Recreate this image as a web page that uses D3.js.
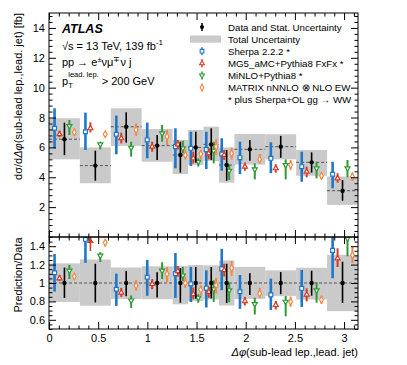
<!DOCTYPE html>
<html lang="en">
<head>
<meta charset="UTF-8">
<title>ATLAS dphi(sub-lead lep., lead. jet)</title>
<style>
  body { margin: 0; background: #fff; }
  text { font-family: "Liberation Sans", Arial, sans-serif; fill: #000; }
</style>
</head>
<body>
<script src="https://d3js.org/d3.v7.min.js"></script>
<script>
// bin edges in rad (0, pi/10, ... with finer bins around pi/2)
const binEdges = [0, 0.314, 0.628, 0.942, 1.257, 1.414, 1.571, 1.728, 1.885, 2.199, 2.513, 2.827, 3.1416];

// data, stat. errors and total uncertainty [fb]
const dataVal = [6.55, 4.78, 7.38, 6.12, 5.49, 6.0, 6.2, 4.82, 5.87, 6.05, 5.0, 3.1];
const dataLo  = [5.48, 3.77, 6.32, 5.16, 4.31, 4.98, 5.16, 3.77, 5.11, 5.31, 4.31, 2.43];
const dataHi  = [7.65, 5.78, 8.35, 6.83, 6.38, 7.05, 7.28, 5.83, 6.5, 6.77, 5.67, 3.82];
const totLo   = [5.2, 3.6, 6.1, 5.04, 4.22, 4.82, 5.09, 3.64, 4.85, 5.2, 4.1, 2.15];
const totHi   = [7.95, 6.0, 8.62, 7.23, 6.5, 7.17, 7.39, 6.0, 6.9, 6.88, 5.83, 4.05];

// predictions
const sherpaVal = [7.28, 7.05, 6.88, 6.5, 6.05, 5.94, 5.85, 5.56, 5.31, 5.27, 4.71, 4.2];
const sherpaLo  = [5.94, 5.83, 5.54, 5.27, 4.6, 4.76, 4.55, 4.44, 4.22, 4.27, 3.7, 3.26];
const sherpaHi  = [8.62, 8.33, 8.13, 7.66, 7.28, 7.05, 7.05, 6.61, 6.38, 6.34, 5.71, 5.04];

const mg5Val = [6.88, 7.28, 6.61, 6.05, 6.2, 5.27, 5.6, 5.49, 4.71, 4.6, 4.37, 3.93];
const mg5Lo  = [6.68, 7.0, 6.27, 5.71, 5.87, 4.93, 5.2, 5.16, 4.44, 4.31, 4.0, 3.64];
const mg5Hi  = [7.12, 7.68, 6.99, 6.38, 6.5, 5.71, 5.94, 5.83, 4.98, 4.87, 4.71, 4.27];

const minloVal = [7.43, 6.2, 5.98, 6.94, 5.94, 5.04, 5.78, 4.44, 4.53, 4.82, 4.6, 4.6];
const minloLo  = [6.83, 5.87, 5.38, 6.38, 5.6, 4.71, 4.93, 3.82, 3.86, 3.86, 3.93, 4.0];
const minloHi  = [7.84, 6.38, 6.38, 7.5, 6.45, 5.27, 6.38, 4.82, 4.93, 5.2, 5.04, 5.16];

const matrixVal = [7.01, 6.88, 7.17, 6.72, 5.49, 5.56, 6.05, 5.6, 5.2, 4.82, 4.09, 4.04];
const matrixLo  = [6.79, 6.68, 6.77, 6.16, 5.2, 5.2, 5.49, 5.2, 4.93, 4.49, 3.86, 3.77];
const matrixHi  = [7.23, 7.05, 7.61, 7.17, 5.87, 5.83, 6.54, 5.98, 5.56, 5.16, 4.31, 4.31];

const xTicks = [0, 0.5, 1, 1.5, 2, 2.5, 3];
const yTicks = [2, 4, 6, 8, 10, 12, 14];
const rTicks = [0.6, 0.8, 1, 1.2, 1.4];

// layout
const W = 407, H = 365;
const pLeft = 49, pRight = 358, pTop = 13, pMid = 237, pBottom = 329;

const svg = d3.select("body").append("svg").attr("width", W).attr("height", H);

const x = d3.scaleLinear().domain([0, Math.PI]).range([pLeft, pRight]);
const y = d3.scaleLinear().domain([0, 15]).range([pMid, pTop]);
const yR = d3.scaleLinear().domain([0.5, 1.5]).range([pBottom, pMid]);

const defs = svg.append("defs");
defs.append("clipPath").attr("id", "cMain").append("rect")
    .attr("x", pLeft).attr("y", pTop).attr("width", pRight - pLeft).attr("height", pMid - pTop);
defs.append("clipPath").attr("id", "cRatio").append("rect")
    .attr("x", pLeft).attr("y", pMid).attr("width", pRight - pLeft).attr("height", pBottom - pMid);

const bins = dataVal.map((d, i) => ({
    lo: binEdges[i], hi: binEdges[i + 1],
    c: (binEdges[i] + binEdges[i + 1]) / 2, w: binEdges[i + 1] - binEdges[i]
}));

const series = [
    { val: sherpaVal, lo: sherpaLo, hi: sherpaHi, color: "#1f77c9", sym: d3.symbolSquare, size: 15, rot: 0, off: -0.32, sw: 2.6 },
    { val: mg5Val, lo: mg5Lo, hi: mg5Hi, color: "#d93a22", sym: d3.symbolTriangle, size: 11, rot: 0, off: -0.16, sw: 2 },
    { val: minloVal, lo: minloLo, hi: minloHi, color: "#2e9a35", sym: d3.symbolTriangle, size: 11, rot: 180, off: 0.16, sw: 2 },
    { val: matrixVal, lo: matrixLo, hi: matrixHi, color: "#f58746", sym: d3.symbolDiamond, size: 13, rot: 0, off: 0.32, sw: 2 }
];

// ---------- main panel ----------
const gM = svg.append("g").attr("clip-path", "url(#cMain)");
gM.selectAll("rect.tot").data(bins).enter().append("rect")
    .attr("x", d => x(d.lo)).attr("width", d => x(d.hi) - x(d.lo))
    .attr("y", (d, i) => y(totHi[i])).attr("height", (d, i) => y(totLo[i]) - y(totHi[i]))
    .attr("fill", "#cacaca");
gM.selectAll("line.dash").data(bins).enter().append("line")
    .attr("x1", d => x(d.lo)).attr("x2", d => x(d.hi))
    .attr("y1", (d, i) => y(dataVal[i])).attr("y2", (d, i) => y(dataVal[i]))
    .attr("stroke", "#555").attr("stroke-width", 1).attr("stroke-dasharray", "3,2");

function drawSeries(g, s, ys, norm) {
    bins.forEach((b, i) => {
        const px = x(b.c + s.off * b.w);
        const n = norm ? dataVal[i] : 1;
        g.append("line").attr("x1", px).attr("x2", px)
            .attr("y1", ys(s.lo[i] / n)).attr("y2", ys(s.hi[i] / n))
            .attr("stroke", s.color).attr("stroke-width", s.sw);
        const v = s.val[i] / n;
        if (norm && v > ys.domain()[1]) {
            // off-scale: arrow up
            const y0 = ys(ys.domain()[1]);
            g.append("line").attr("x1", px).attr("x2", px).attr("y1", y0 + 14).attr("y2", y0 + 3)
                .attr("stroke", s.color).attr("stroke-width", 1.5);
            g.append("path").attr("d", `M${px - 3.5},${y0 + 6}L${px},${y0 + 1}L${px + 3.5},${y0 + 6}Z`)
                .attr("fill", s.color);
            return;
        }
        g.append("path").attr("d", d3.symbol().type(s.sym).size(s.size)())
            .attr("transform", `translate(${px},${ys(v)}) rotate(${s.rot})`)
            .attr("fill", "#fff").attr("stroke", s.color).attr("stroke-width", 1.2);
    });
}
function drawData(g, ys, norm) {
    bins.forEach((b, i) => {
        const px = x(b.c), n = norm ? dataVal[i] : 1;
        g.append("line").attr("x1", px).attr("x2", px)
            .attr("y1", ys(dataLo[i] / n)).attr("y2", ys(dataHi[i] / n))
            .attr("stroke", "#000").attr("stroke-width", 1.6);
        g.append("circle").attr("cx", px).attr("cy", ys(dataVal[i] / n)).attr("r", 2.2).attr("fill", "#000");
    });
}
series.forEach(s => drawSeries(gM, s, y, false));
drawData(gM, y, false);

// ---------- ratio panel ----------
const gR = svg.append("g").attr("clip-path", "url(#cRatio)");
gR.selectAll("rect.tot").data(bins).enter().append("rect")
    .attr("x", d => x(d.lo)).attr("width", d => x(d.hi) - x(d.lo))
    .attr("y", (d, i) => yR(totHi[i] / dataVal[i]))
    .attr("height", (d, i) => yR(totLo[i] / dataVal[i]) - yR(totHi[i] / dataVal[i]))
    .attr("fill", "#cacaca");
gR.append("line").attr("x1", pLeft).attr("x2", pRight).attr("y1", yR(1)).attr("y2", yR(1))
    .attr("stroke", "#555").attr("stroke-width", 1).attr("stroke-dasharray", "3,2");
series.forEach(s => drawSeries(gR, s, yR, true));
drawData(gR, yR, true);

// ---------- axes ----------
function ticks(g, axis, vals, len, fmt) {
    g.call(axis.tickValues(vals).tickSizeInner(-len).tickSizeOuter(0).tickFormat(fmt || ""))
        .call(a => a.select(".domain").remove())
        .call(a => a.selectAll("line").attr("stroke", "#000"));
    return g;
}
const xMinor = d3.range(0, 3.15, 0.1).filter(v => Math.abs(v * 2 - Math.round(v * 2)) > 1e-6);
const yMinor = d3.range(0, 15.01, 0.4).filter(v => Math.abs(v / 2 - Math.round(v / 2)) > 1e-6);
const rMinor = d3.range(0.5, 1.501, 0.05).filter(v => Math.abs(v * 5 - Math.round(v * 5)) > 1e-6);

[[pMid, "B"], [pTop, "T"], [pBottom, "B"], [pMid, "T"]].forEach(([yy, side]) => {
    const mk = () => side === "B" ? d3.axisBottom(x) : d3.axisTop(x);
    ticks(svg.append("g").attr("transform", `translate(0,${yy})`), mk(), xTicks, 7);
    ticks(svg.append("g").attr("transform", `translate(0,${yy})`), mk(), xMinor, 3.5);
});
// x labels on the ratio panel
ticks(svg.append("g").attr("transform", `translate(0,${pBottom})`), d3.axisBottom(x), xTicks, 0, d3.format(""))
    .selectAll("text").attr("font-size", 11).attr("y", 5);

ticks(svg.append("g").attr("transform", `translate(${pLeft},0)`), d3.axisLeft(y), yTicks, 7, d3.format(""))
    .selectAll("text").attr("font-size", 11).attr("x", -4);
ticks(svg.append("g").attr("transform", `translate(${pLeft},0)`), d3.axisLeft(y), yMinor, 3.5);
ticks(svg.append("g").attr("transform", `translate(${pRight},0)`), d3.axisRight(y), yTicks, 7);
ticks(svg.append("g").attr("transform", `translate(${pRight},0)`), d3.axisRight(y), yMinor, 3.5);

ticks(svg.append("g").attr("transform", `translate(${pLeft},0)`), d3.axisLeft(yR), rTicks, 7, d => String(+d.toFixed(1)))
    .selectAll("text").attr("font-size", 11).attr("x", -4);
ticks(svg.append("g").attr("transform", `translate(${pLeft},0)`), d3.axisLeft(yR), rMinor, 3.5);
ticks(svg.append("g").attr("transform", `translate(${pRight},0)`), d3.axisRight(yR), rTicks, 7);
ticks(svg.append("g").attr("transform", `translate(${pRight},0)`), d3.axisRight(yR), rMinor, 3.5);

svg.selectAll(".tick text").attr("font-family", "Liberation Sans, Arial, sans-serif").attr("fill", "#000");

// frames
svg.append("rect").attr("x", pLeft).attr("y", pTop).attr("width", pRight - pLeft).attr("height", pMid - pTop)
    .attr("fill", "none").attr("stroke", "#000").attr("stroke-width", 1);
svg.append("rect").attr("x", pLeft).attr("y", pMid).attr("width", pRight - pLeft).attr("height", pBottom - pMid)
    .attr("fill", "none").attr("stroke", "#000").attr("stroke-width", 1);

// ---------- titles ----------
const yt = svg.append("text").attr("transform", `translate(22,${pTop}) rotate(-90)`)
    .attr("text-anchor", "end").attr("font-size", 11);
yt.append("tspan").text("dσ/d");
yt.append("tspan").attr("font-style", "italic").text("Δφ");
yt.append("tspan").text("(sub-lead lep.,lead. jet) [fb]");

svg.append("text").attr("transform", `translate(22,${(pMid + pBottom) / 2 - 8}) rotate(-90)`)
    .attr("text-anchor", "middle").attr("font-size", 11).text("Prediction/Data");

const xt = svg.append("text").attr("x", pRight).attr("y", 356).attr("text-anchor", "end").attr("font-size", 11);
xt.append("tspan").attr("font-style", "italic").text("Δφ");
xt.append("tspan").text("(sub-lead lep.,lead. jet)");

// ---------- labels ----------
svg.append("text").attr("x", 62).attr("y", 33).attr("font-size", 12.5)
    .attr("font-weight", "bold").attr("font-style", "italic").text("ATLAS");
const t1 = svg.append("text").attr("x", 62).attr("y", 50).attr("font-size", 11);
t1.append("tspan").text("√s = 13 TeV, 139 fb");
t1.append("tspan").attr("font-size", 8).attr("dy", -5).text("-1");
const t2 = svg.append("text").attr("x", 62).attr("y", 66).attr("font-size", 11);
t2.append("tspan").text("pp → e");
t2.append("tspan").attr("font-size", 7.5).attr("dy", -4).text("±");
t2.append("tspan").attr("dy", 4).text("νμ");
t2.append("tspan").attr("font-size", 7.5).attr("dy", -4).text("∓");
t2.append("tspan").attr("dy", 4).text("ν j");
const t3 = svg.append("text").attr("x", 62).attr("y", 85).attr("font-size", 11);
t3.append("tspan").text("p");
t3.append("tspan").attr("font-size", 7.5).attr("dy", 3).text("T");
t3.append("tspan").attr("font-size", 7.5).attr("dx", -4.5).attr("dy", -11.5).text("lead. lep.");
t3.append("tspan").attr("dy", 8.5).attr("dx", 3).text("> 200 GeV");

// ---------- legend ----------
const legNames = ["Data and Stat. Uncertainty", "Total Uncertainty", "Sherpa 2.2.2 *",
    "MG5_aMC+Pythia8 FxFx *", "MiNLO+Pythia8 *", "MATRIX nNNLO ⊗ NLO EW", "* plus Sherpa+OL gg → WW"];
const lx = 202, ltx = 228, ly0 = 27, ldy = 12.1;
legNames.forEach((n, i) => {
    svg.append("text").attr("x", ltx).attr("y", ly0 + i * ldy + 3.5).attr("font-size", 9.7).text(n);
});
svg.append("line").attr("x1", lx).attr("x2", lx).attr("y1", ly0 - 4).attr("y2", ly0 + 4)
    .attr("stroke", "#000").attr("stroke-width", 1.5);
svg.append("circle").attr("cx", lx).attr("cy", ly0).attr("r", 2).attr("fill", "#000");
svg.append("rect").attr("x", 190).attr("y", ly0 + ldy - 3.6).attr("width", 31).attr("height", 7.2).attr("fill", "#cacaca");
series.forEach((s, k) => {
    const yy = ly0 + (k + 2) * ldy;
    svg.append("line").attr("x1", lx).attr("x2", lx).attr("y1", yy - 4).attr("y2", yy + 4)
        .attr("stroke", s.color).attr("stroke-width", 1.5);
    svg.append("path").attr("d", d3.symbol().type(s.sym).size(s.size * 0.9)())
        .attr("transform", `translate(${lx},${yy}) rotate(${s.rot})`)
        .attr("fill", "#fff").attr("stroke", s.color).attr("stroke-width", 1.1);
});
</script>
</body>
</html>
